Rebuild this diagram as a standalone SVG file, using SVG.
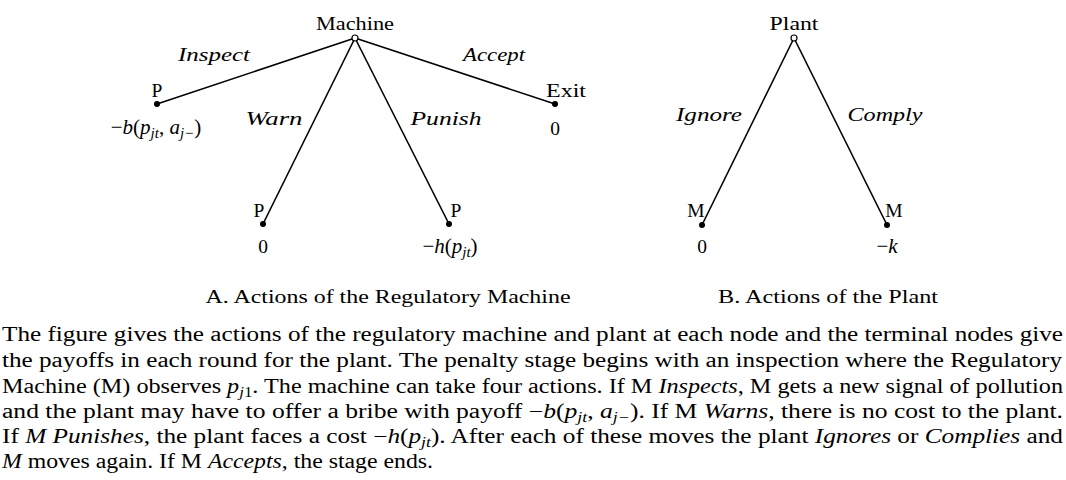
<svg xmlns="http://www.w3.org/2000/svg" width="1066" height="480" viewBox="0 0 1066 480">
<style>
text{font-family:"Liberation Serif","DejaVu Serif",serif;fill:#000;}
.lbl{font-size:19.5px;}
.math{font-size:21px;}
.it{font-style:italic;}
.sub{font-size:15px;font-style:italic;}
.edge{stroke:#000;stroke-width:1.6;fill:none;}
.root{fill:#fff;stroke:#000;stroke-width:1.2;}
.leaf{fill:#000;}
.par{font-size:20px;}
</style>
<rect width="1066" height="480" fill="#fff"/>
<g id="connectors">
<line class="edge" x1="355" y1="38" x2="157" y2="104"/>
<line class="edge" x1="355" y1="38" x2="555" y2="104"/>
<line class="edge" x1="355" y1="38" x2="263" y2="224"/>
<line class="edge" x1="355" y1="38" x2="449" y2="224"/>
<line class="edge" x1="794" y1="38" x2="702" y2="225"/>
<line class="edge" x1="794" y1="38" x2="887" y2="225"/>
</g>
<g id="edge-labels" class="lbl">
<text class="it" x="214" y="61" text-anchor="middle" textLength="72" lengthAdjust="spacingAndGlyphs">Inspect</text>
<text class="it" x="494" y="61" text-anchor="middle" textLength="62" lengthAdjust="spacingAndGlyphs">Accept</text>
<text class="it" x="274" y="125" text-anchor="middle" textLength="57" lengthAdjust="spacingAndGlyphs">Warn</text>
<text class="it" x="446" y="125" text-anchor="middle" textLength="71" lengthAdjust="spacingAndGlyphs">Punish</text>
<text class="it" x="709" y="121" text-anchor="middle" textLength="66" lengthAdjust="spacingAndGlyphs">Ignore</text>
<text class="it" x="885" y="121" text-anchor="middle" textLength="75" lengthAdjust="spacingAndGlyphs">Comply</text>
</g>
<g id="machine" class="lbl">
<text x="355" y="30" text-anchor="middle" textLength="78" lengthAdjust="spacingAndGlyphs">Machine</text>
<circle class="root" cx="355" cy="38" r="3"/>
</g>
<g id="inspect-P" class="lbl">
<text x="157" y="97" text-anchor="middle">P</text>
<circle class="leaf" cx="157" cy="104" r="3"/>
<text class="math" x="156" y="134" text-anchor="middle">−<tspan class="it">b</tspan>(<tspan class="it">p</tspan><tspan class="sub" dy="4">jt</tspan><tspan dy="-4">, </tspan><tspan class="it">a</tspan><tspan class="sub" dy="4">j−</tspan><tspan dy="-4">)</tspan></text>
</g>
<g id="exit" class="lbl">
<text x="566" y="97" text-anchor="middle" textLength="40" lengthAdjust="spacingAndGlyphs">Exit</text>
<circle class="leaf" cx="555" cy="104" r="3"/>
<text x="555" y="135" text-anchor="middle">0</text>
</g>
<g id="warn-P" class="lbl">
<text x="259" y="217" text-anchor="middle">P</text>
<circle class="leaf" cx="263" cy="224" r="3"/>
<text x="263" y="253" text-anchor="middle">0</text>
</g>
<g id="punish-P" class="lbl">
<text x="456" y="217" text-anchor="middle">P</text>
<circle class="leaf" cx="449" cy="224" r="3"/>
<text class="math" x="450" y="253" text-anchor="middle">−<tspan class="it">h</tspan>(<tspan class="it">p</tspan><tspan class="sub" dy="4">jt</tspan><tspan dy="-4">)</tspan></text>
</g>
<g id="plant" class="lbl">
<text x="794" y="30" text-anchor="middle" textLength="49" lengthAdjust="spacingAndGlyphs">Plant</text>
<circle class="root" cx="794" cy="38" r="3"/>
</g>
<g id="ignore-M" class="lbl">
<text x="696" y="217" text-anchor="middle">M</text>
<circle class="leaf" cx="702" cy="225" r="3"/>
<text x="702" y="253" text-anchor="middle">0</text>
</g>
<g id="comply-M" class="lbl">
<text x="894" y="217" text-anchor="middle">M</text>
<circle class="leaf" cx="887" cy="225" r="3"/>
<text class="math" x="887" y="253" text-anchor="middle">−<tspan class="it">k</tspan></text>
</g>
<g id="captions" class="lbl">
<text x="388" y="303" text-anchor="middle" textLength="365" lengthAdjust="spacingAndGlyphs">A. Actions of the Regulatory Machine</text>
<text x="828" y="303" text-anchor="middle" textLength="220" lengthAdjust="spacingAndGlyphs">B. Actions of the Plant</text>
</g>
<g id="paragraph" class="par">
<text x="2" y="341" textLength="1061" lengthAdjust="spacingAndGlyphs">The figure gives the actions of the regulatory machine and plant at each node and the terminal nodes give</text>
<text x="2" y="367" textLength="1060" lengthAdjust="spacingAndGlyphs">the payoffs in each round for the plant. The penalty stage begins with an inspection where the Regulatory</text>
<text x="2" y="393" textLength="1061" lengthAdjust="spacingAndGlyphs">Machine (M) observes <tspan class="it">p</tspan><tspan font-size="14" class="it" dy="4">j</tspan><tspan font-size="14">1</tspan><tspan dy="-4">. The machine can take four actions. If M </tspan><tspan class="it">Inspects</tspan>, M gets a new signal of pollution</text>
<text x="2" y="418" textLength="1061" lengthAdjust="spacingAndGlyphs">and the plant may have to offer a bribe with payoff −<tspan class="it">b</tspan>(<tspan class="it">p</tspan><tspan font-size="14" class="it" dy="4">jt</tspan><tspan dy="-4">, </tspan><tspan class="it">a</tspan><tspan font-size="14" class="it" dy="4">j−</tspan><tspan dy="-4">). If M </tspan><tspan class="it">Warns</tspan>, there is no cost to the plant.</text>
<text x="2" y="443" textLength="1061" lengthAdjust="spacingAndGlyphs">If <tspan class="it">M Punishes</tspan>, the plant faces a cost −<tspan class="it">h</tspan>(<tspan class="it">p</tspan><tspan font-size="14" class="it" dy="4">jt</tspan><tspan dy="-4">). After each of these moves the plant </tspan><tspan class="it">Ignores</tspan> or <tspan class="it">Complies</tspan> and</text>
<text x="2" y="468" textLength="431" lengthAdjust="spacingAndGlyphs"><tspan class="it">M</tspan> moves again. If M <tspan class="it">Accepts</tspan>, the stage ends.</text>
</g>
</svg>
